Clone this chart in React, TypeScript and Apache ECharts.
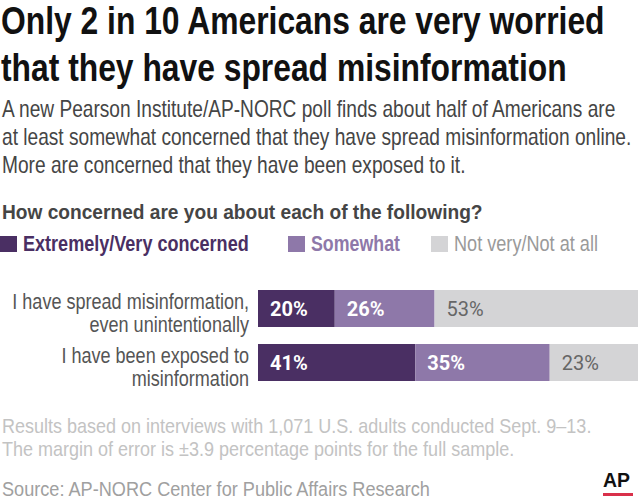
import React, { useEffect, useRef } from "react";
import * as echarts from "echarts";

const categories = ["I have spread misinformation,\neven unintentionally", "I have been exposed to\nmisinformation"];
const seriesNames = ["Extremely/Very concerned", "Somewhat", "Not very/Not at all"];
const veryValues = [20, 41];
const somewhatValues = [26, 35];
const notValues = [53, 23];
const titleLines = ["Only 2 in 10 Americans are very worried", "that they have spread misinformation"];
const subtitleLines = [
  "A new Pearson Institute/AP-NORC poll finds about half of Americans are",
  "at least somewhat concerned that they have spread misinformation online.",
  "More are concerned that they have been exposed to it.",
];
const question = "How concerned are you about each of the following?";
const noteLines = [
  "Results based on interviews with 1,071 U.S. adults conducted Sept. 9–13.",
  "The margin of error is ±3.9 percentage points for the full sample.",
];
const source = "Source: AP-NORC Center for Public Affairs Research";

const colors = ["#4a2f63", "#8e78a9", "#d4d4d6"];
const legendTextColors = ["#4a2f63", "#8e78a9", "#9a9a9a"];
const BASE = "'Liberation Sans', Arial, sans-serif";

const canvas = typeof document !== "undefined" ? document.createElement("canvas") : null;
const ctx = canvas ? canvas.getContext("2d") : null;
function measure(text: string, fs: number, bold: boolean) {
  if (!ctx) return text.length * fs * 0.5;
  ctx.font = `${bold ? "bold " : ""}${fs}px ${BASE}`;
  return ctx.measureText(text).width;
}
function fitScale(text: string, fs: number, bold: boolean, width: number) {
  return width / measure(text, fs, bold);
}
function txt(text: string, x: number, baseline: number, fs: number, color: string, bold: boolean, scale: number, align = "left") {
  return {
    type: "text",
    x,
    y: baseline - 0.35 * fs,
    scaleX: scale,
    silent: true,
    style: {
      text,
      x: 0,
      y: 0,
      fill: color,
      fontFamily: BASE,
      fontSize: fs,
      fontWeight: bold ? "bold" : "normal",
      textAlign: align,
      textVerticalAlign: "middle",
    },
  };
}

export default function App() {
  const ref = useRef<HTMLDivElement>(null);
  useEffect(() => {
    const chart = echarts.init(ref.current!, null, { renderer: "svg" });
    const lbl = (color: string, bold: boolean) => ({
      show: true,
      position: "insideLeft" as const,
      distance: 12,
      formatter: "{c}%",
      color,
      fontFamily: "Roboto, sans-serif",
      fontSize: 20,
      fontWeight: bold ? "bold" : "normal",
    });
    chart.setOption({
      animation: false,
      backgroundColor: "#ffffff",
      grid: { left: 258, right: 2, top: 281.5, height: 108, containLabel: false, outerBoundsMode: "none" },
      xAxis: { type: "value", min: 0, max: 99, show: false },
      yAxis: {
        type: "category",
        inverse: true,
        data: categories,
        axisLine: { show: false },
        axisTick: { show: false },
        axisLabel: { show: false },
      },
      series: [
        { name: seriesNames[0], type: "bar", stack: "a", data: veryValues, barWidth: 37, itemStyle: { color: colors[0] }, label: lbl("#ffffff", true) },
        { name: seriesNames[1], type: "bar", stack: "a", data: somewhatValues, barWidth: 37, itemStyle: { color: colors[1] }, label: lbl("#ffffff", true) },
        { name: seriesNames[2], type: "bar", stack: "a", data: notValues, barWidth: 37, itemStyle: { color: colors[2] }, label: lbl("#666666", false) },
      ],
    });

    const g: any[] = [];
    // title
    const ts = fitScale(titleLines[0], 39, true, 605);
    g.push(txt(titleLines[0], 1, 35, 39, "#111111", true, ts));
    g.push(txt(titleLines[1], 1, 82, 39, "#111111", true, ts));
    // subtitle
    const ss = fitScale(subtitleLines[1], 23, false, 630);
    subtitleLines.forEach((l, i) => g.push(txt(l, 2, 117 + i * 28, 23, "#454545", false, ss)));
    // question
    g.push(txt(question, 2, 219, 21, "#454545", true, fitScale(question, 21, true, 481)));
    // legend
    const legX = [0, 288, 431];
    const legW = [226, 89, 144];
    seriesNames.forEach((n, i) => {
      g.push({ type: "rect", silent: true, shape: { x: legX[i], y: 236, width: 17, height: 16 }, style: { fill: colors[i] } });
      g.push(txt(n, legX[i] + 23, 251, 22, legendTextColors[i], i < 2, fitScale(n, 22, i < 2, legW[i])));
    });
    // category labels
    const cs = fitScale(categories[0].split("\n")[0], 22, false, 237);
    categories.forEach((c, i) => {
      const cy = chart.convertToPixel({ yAxisIndex: 0 }, c) as number;
      c.split("\n").forEach((l, j) => g.push(txt(l, 249, cy + 0.5 + j * 23, 22, "#555555", false, cs, "right")));
    });
    // notes
    const ns = fitScale(noteLines[0], 20, false, 590);
    noteLines.forEach((l, i) => g.push(txt(l, 2, 433 + i * 23, 20, "#c3c3c3", false, ns)));
    g.push(txt(source, 2, 496, 21, "#a0a0a0", false, fitScale(source, 21, false, 430)));
    // AP logo
    g.push(txt("AP", 603, 487, 21, "#111111", true, fitScale("AP", 21, true, 27)));
    g.push({ type: "rect", silent: true, shape: { x: 603, y: 493, width: 30, height: 3 }, style: { fill: "#d9304a" } });

    chart.setOption({ graphic: g });
    return () => chart.dispose();
  }, []);
  return <div ref={ref} style={{ width: 640, height: 502, position: "absolute", left: 0, top: 0 }} />;
}
